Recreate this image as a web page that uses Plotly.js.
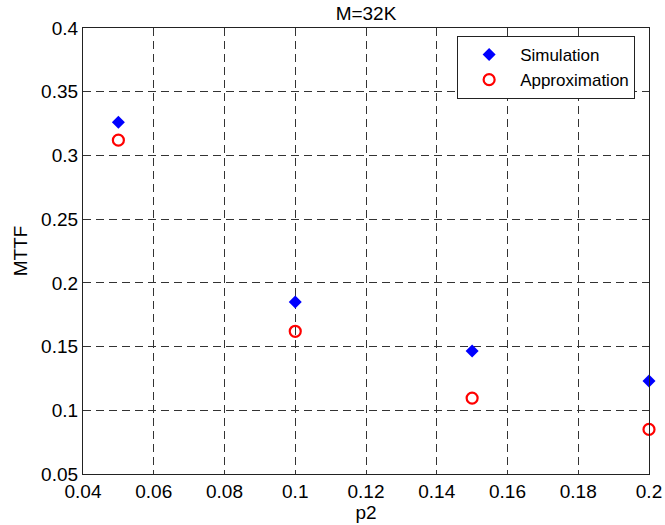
<!DOCTYPE html>
<html>
<head>
<meta charset="utf-8">
<script src="https://cdn.plot.ly/plotly-3.0.1.min.js"></script>
<style>html,body{margin:0;padding:0;background:#fff;}#chart{width:665px;height:525px;}</style>
</head>
<body>
<div id="chart"></div>
<script>
const p2 = [0.05, 0.10, 0.15, 0.20];
const simulation = [0.326, 0.185, 0.1466, 0.123];
const approximation = [0.312, 0.162, 0.1096, 0.085];
const xTicks = [0.04, 0.06, 0.08, 0.1, 0.12, 0.14, 0.16, 0.18, 0.2];
const yTicks = [0.05, 0.1, 0.15, 0.2, 0.25, 0.3, 0.35, 0.4];

const font = 'Arial, "Liberation Sans", Helvetica, sans-serif';
const traces = [
  {x: p2, y: simulation, name: 'Simulation', mode: 'markers', type: 'scatter', cliponaxis: false,
   marker: {symbol: 'diamond', size: 10, color: '#0000ff'}},
  {x: p2, y: approximation, name: 'Approximation', mode: 'markers', type: 'scatter', cliponaxis: false,
   marker: {symbol: 'circle-open', size: 11, color: '#ff0000', line: {width: 2.2, color: '#ff0000'}}}
];
const axisCommon = {
  showline: true, mirror: true, linecolor: '#222', linewidth: 1.3,
  showgrid: true, gridcolor: '#333', griddash: '8px,5px', gridwidth: 1,
  zeroline: false, ticks: '', tickfont: {size: 19, color: '#000', family: font},
};
const layout = {
  width: 665, height: 525,
  margin: {l: 83, r: 16, t: 28, b: 51},
  paper_bgcolor: '#fff', plot_bgcolor: '#fff',
  font: {family: font, color: '#000'},
  title: {text: 'M=32K', font: {size: 19, color: '#000'}, xref: 'paper', x: 0.5, xanchor: 'center', y: 0.975, yanchor: 'middle'},
  xaxis: Object.assign({}, axisCommon, {range: [0.04, 0.2], tickvals: xTicks, ticktext: xTicks.map(String),
    title: {text: 'p2', font: {size: 19}, standoff: 2}}),
  yaxis: Object.assign({}, axisCommon, {range: [0.05, 0.4], tickvals: yTicks, ticktext: yTicks.map(String),
    title: {text: 'MTTF', font: {size: 19}, standoff: 8}}),
  showlegend: true,
  legend: {x: 0.661, y: 0.982, xanchor: 'left', yanchor: 'top', bordercolor: '#222', borderwidth: 1,
    bgcolor: '#fff', font: {size: 17, color: '#000'}, itemwidth: 52, tracegroupgap: 0}
};
Plotly.newPlot('chart', traces, layout, {displayModeBar: false});
</script>
</body>
</html>
